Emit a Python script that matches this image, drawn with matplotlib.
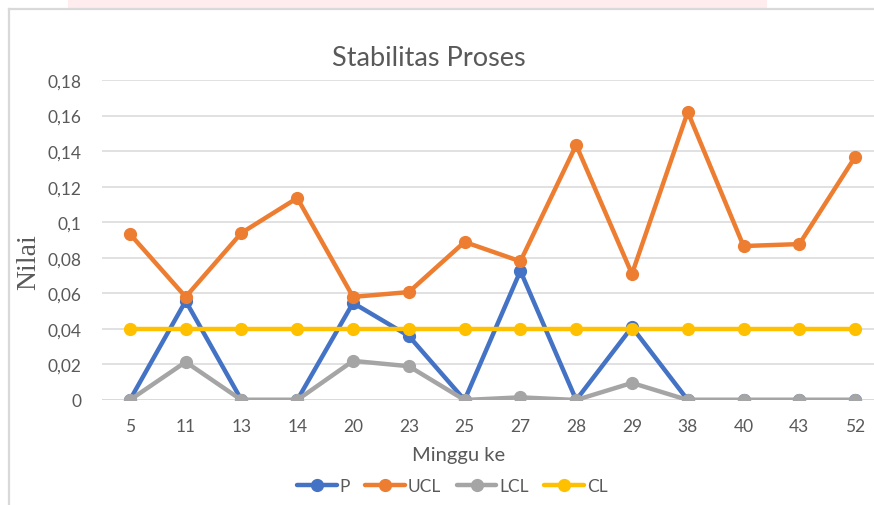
import matplotlib
matplotlib.use('Agg')
import matplotlib.pyplot as plt
from matplotlib.patches import Rectangle
from matplotlib.lines import Line2D

weeks = ['5', '11', '13', '14', '20', '23', '25', '27', '28', '29', '38', '40', '43', '52']
p_vals = [0, 0.0557, 0, 0, 0.0546, 0.036, 0, 0.0726, 0, 0.041, 0, 0, 0, 0]
ucl_vals = [0.0934, 0.058, 0.094, 0.1136, 0.058, 0.0607, 0.0889, 0.078,
            0.1434, 0.0709, 0.162, 0.0866, 0.0877, 0.1367]
lcl_vals = [0, 0.0214, 0, 0, 0.022, 0.019, 0, 0.0015, 0, 0.0096, 0, 0, 0, 0]
cl_vals = [0.04] * 14
y_ticks = [0, 0.02, 0.04, 0.06, 0.08, 0.1, 0.12, 0.14, 0.16, 0.18]
y_labels = ['0', '0,02', '0,04', '0,06', '0,08', '0,1', '0,12', '0,14', '0,16', '0,18']

series = [('P', p_vals, '#4472C4'),
          ('UCL', ucl_vals, '#ED7D31'),
          ('LCL', lcl_vals, '#A5A5A5'),
          ('CL', cl_vals, '#FFC000')]

W, H = 874, 506
fig = plt.figure(figsize=(W / 100, H / 100), dpi=100)
font = 'Lato'
txt = '#595959'

# chart frame and a bit of the pink watermark above it
fig.add_artist(Rectangle((68 / W, 1 - 9 / H), (767 - 68) / W, 9 / H,
                         transform=fig.transFigure, color='#FFD5DA',
                         alpha=0.45, lw=0))
fig.add_artist(Line2D([9 / W, 1], [1 - 10 / H, 1 - 10 / H],
                      transform=fig.transFigure, color='#D9D9D9', lw=1.6))
fig.add_artist(Line2D([9 / W, 9 / W], [0, 1 - 10 / H],
                      transform=fig.transFigure, color='#D9D9D9', lw=1.6))

left, right = 102 / W, 883 / W
bottom, top = 1 - 401 / H, 1 - 81 / H
ax = fig.add_axes([left, bottom, right - left, top - bottom])

xs = range(len(weeks))
for name, vals, col in series:
    ax.plot(xs, vals, '-o', color=col, lw=3.2, ms=8.5, label=name,
            solid_capstyle='round', zorder=3)

ax.set_xlim(-0.5, len(weeks) - 0.5)
ax.set_ylim(0, 0.18)
ax.set_yticks(y_ticks)
ax.set_yticklabels(y_labels)
ax.set_xticks(list(xs))
ax.set_xticklabels(weeks)
ax.grid(axis='y', color='#D9D9D9', lw=1.1)
ax.set_axisbelow(True)
for s in ax.spines.values():
    s.set_visible(False)
ax.axhline(0, color='#D9D9D9', lw=1.1, zorder=1)
ax.tick_params(length=0, labelsize=12.5, labelcolor=txt)
ax.tick_params(axis='x', pad=13)
ax.tick_params(axis='y', pad=15)
for t in ax.get_xticklabels() + ax.get_yticklabels():
    t.set_fontfamily(font)

fig.text(429 / W, 1 - 58 / H, 'Stabilitas Proses', ha='center', va='center',
         fontsize=19.5, color=txt, family=font)
fig.text(459 / W, 1 - 456 / H, 'Minggu ke', ha='center', va='center',
         fontsize=14.5, color=txt, family=font)
fig.text(29 / W, 1 - 262 / H, 'Nilai', ha='center', va='center',
         rotation=90, fontsize=20, color=txt, family='Liberation Serif')

leg = fig.legend(loc='center', bbox_to_anchor=(452 / W, 1 - 487 / H),
                 ncol=4, frameon=False, handlelength=2.3, columnspacing=0.9,
                 handletextpad=0.15, prop={'family': font, 'size': 12.5})
for t in leg.get_texts():
    t.set_color(txt)

fig.savefig('out.png', dpi=100)
